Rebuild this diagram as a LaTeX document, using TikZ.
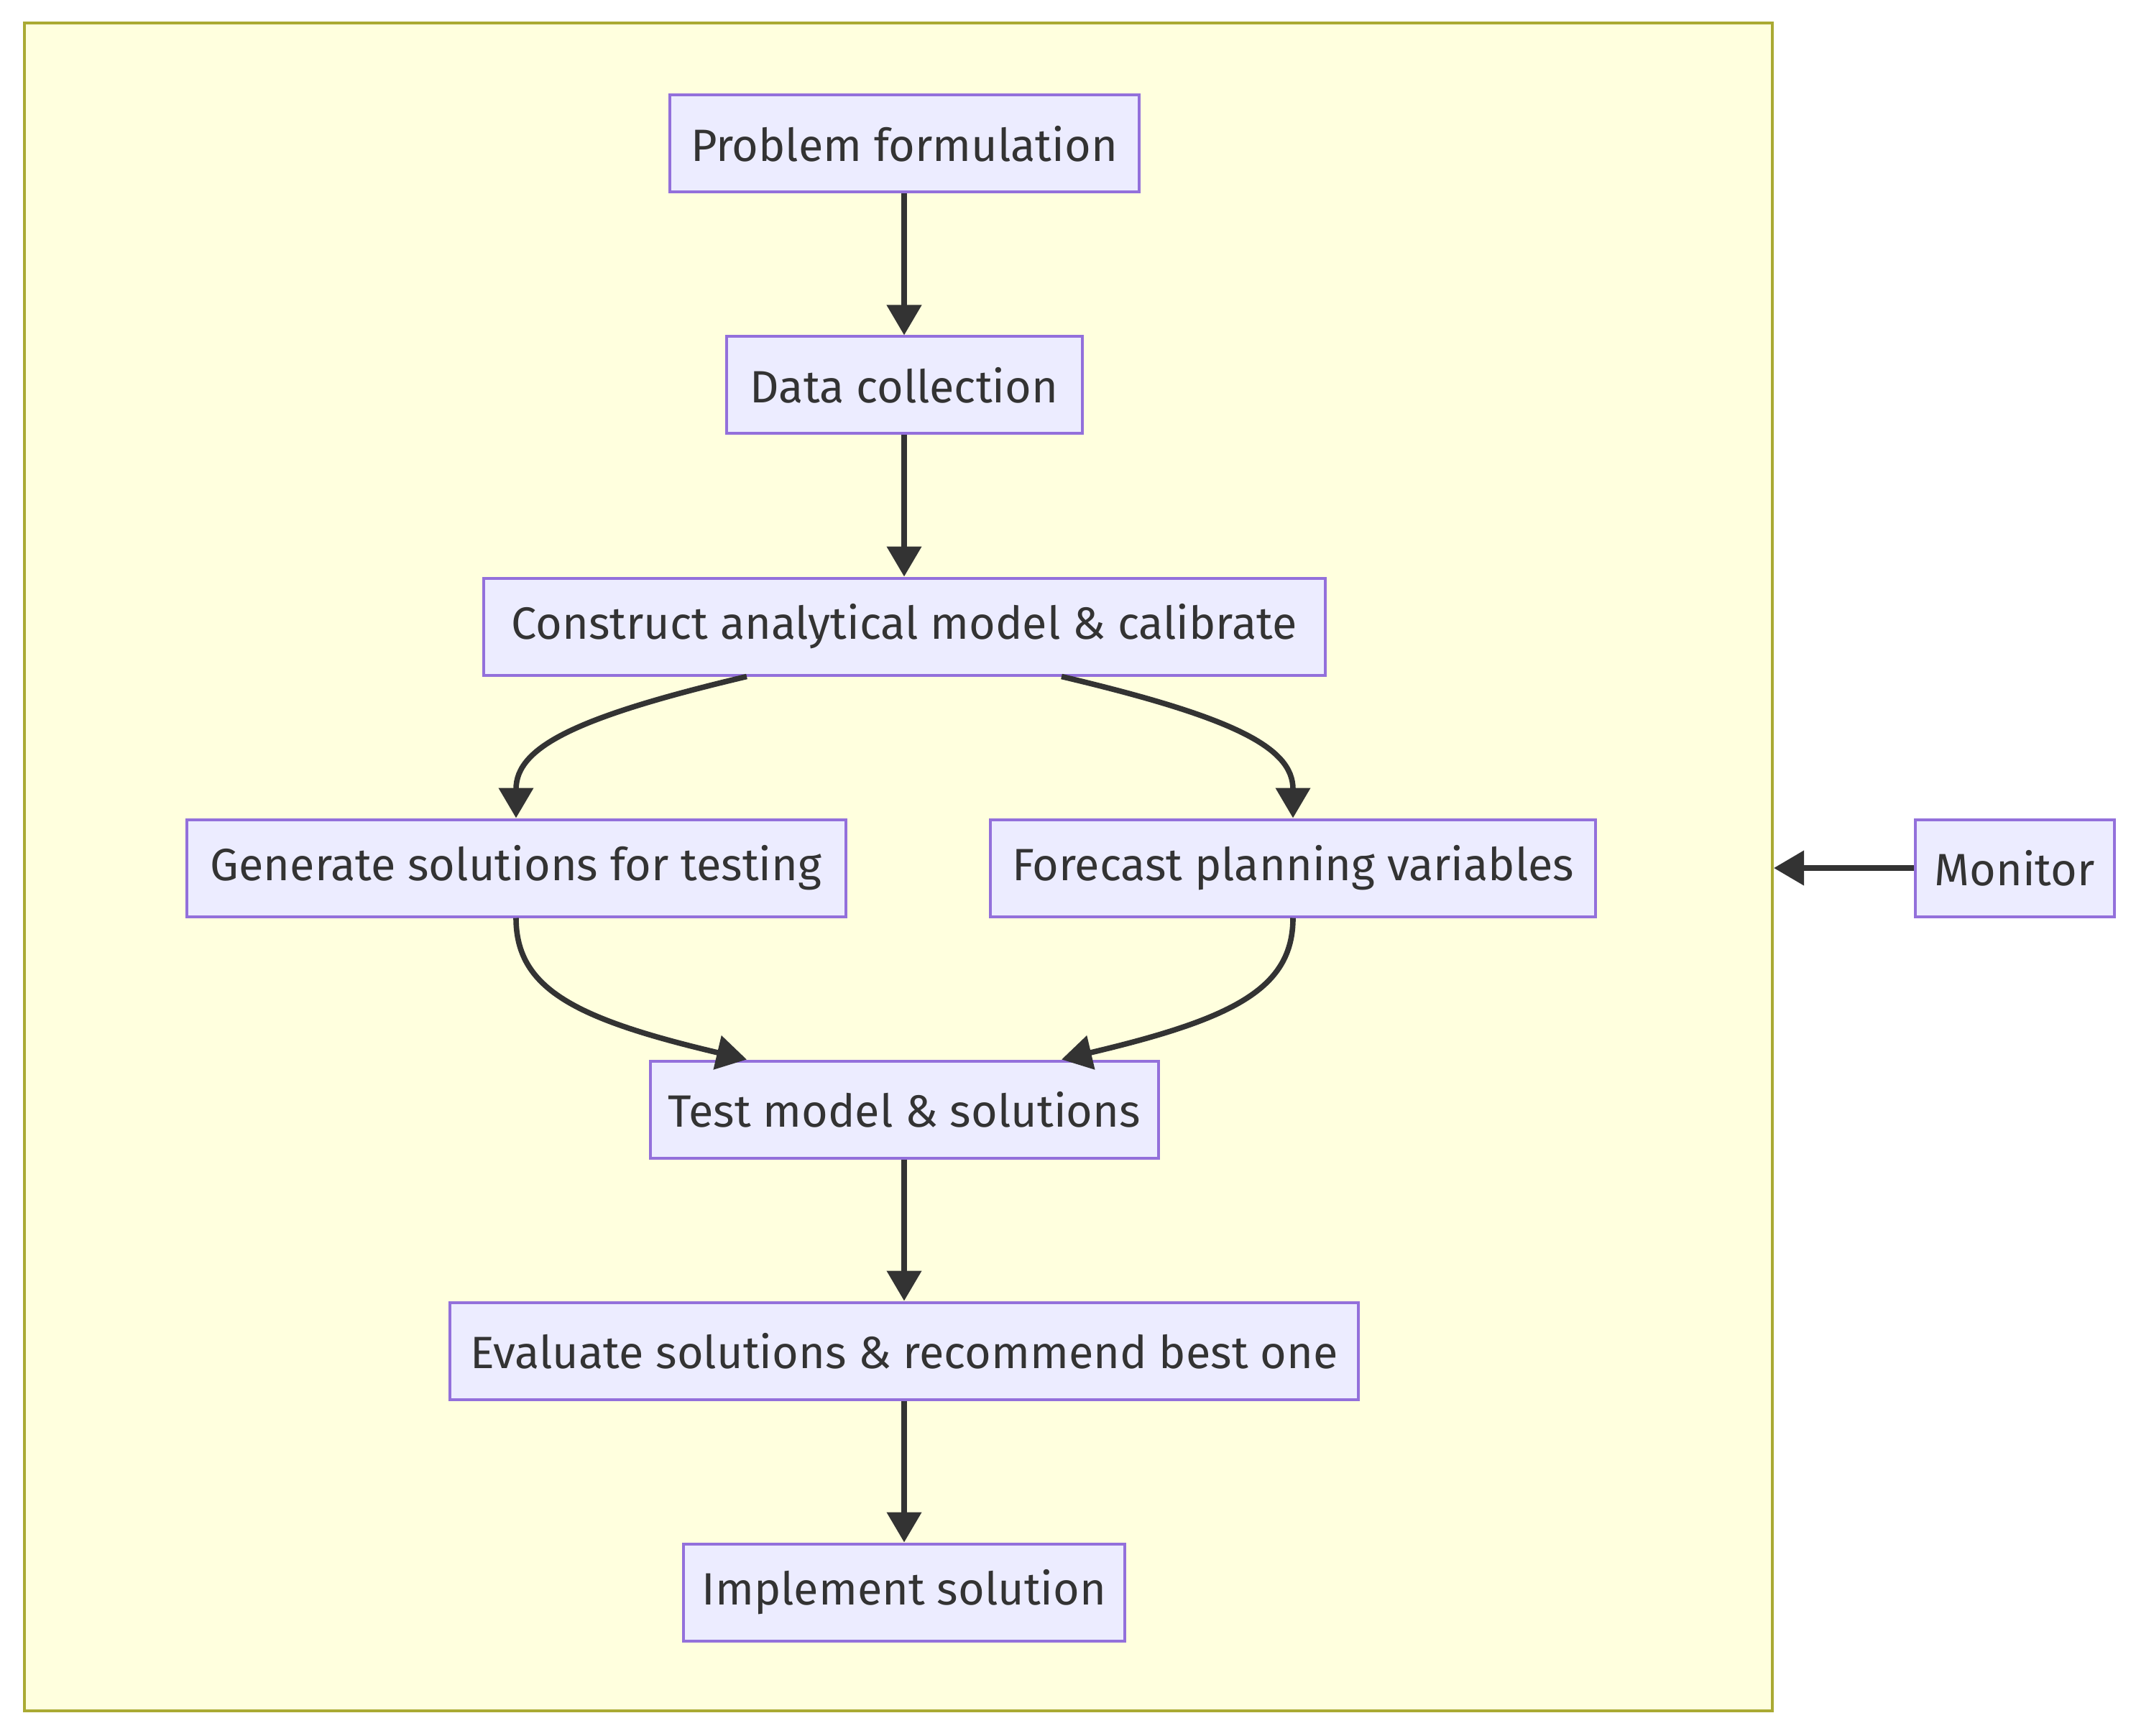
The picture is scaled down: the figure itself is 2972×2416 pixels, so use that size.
\documentclass[tikz,border=0pt]{standalone}
\usepackage{fontspec}
\setmainfont{Fira Sans}
\usetikzlibrary{arrows.meta}
\definecolor{nodefill}{HTML}{ECECFF}
\definecolor{nodeline}{HTML}{9370DB}
\definecolor{clusterfill}{HTML}{FFFFDE}
\definecolor{clusterline}{HTML}{AAAA33}
\definecolor{edgecol}{HTML}{333333}
\begin{document}
\begin{tikzpicture}[x=0.25pt,y=-0.25pt,
  box/.style={draw=nodeline, fill=nodefill, line width=1pt, minimum height=33.75pt,
    inner sep=0pt, text=edgecol, font=\fontsize{15.75pt}{18pt}\selectfont},
  conn/.style={draw=edgecol, line width=1.9pt, -{Triangle[length=10.5pt,width=11.75pt]}}]
\useasboundingbox (0,0) rectangle (2972,2416);
\fill[white] (0,0) rectangle (2972,2416);
\node[draw=clusterline, fill=clusterfill, line width=1pt, minimum width=608pt,
  minimum height=587.25pt, inner sep=0pt] (cluster) at (1250,1206.5) {};
\node[box, minimum width=163.25pt] (problem) at (1258,200) {Problem formulation};
\node[box, minimum width=123.75pt] (data) at (1258,536) {Data collection};
\node[box, minimum width=292.75pt] (construct) at (1258,872) {Construct analytical model \& calibrate};
\node[box, minimum width=229.25pt] (generate) at (718,1208) {Generate solutions for testing};
\node[box, minimum width=210.5pt] (forecast) at (1799,1208) {Forecast planning variables};
\node[box, minimum width=176.75pt] (test) at (1258,1544) {Test model \& solutions};
\node[box, minimum width=316pt] (evaluate) at (1258,1880) {Evaluate solutions \& recommend best one};
\node[box, minimum width=153.5pt] (implement) at (1258,2216) {Implement solution};
\node[box, minimum width=69.25pt] (monitor) at (2803,1208) {Monitor};
\draw[conn] (problem.south) -- (data.north);
\draw[conn] (data.south) -- (construct.north);
\draw[conn] ([xshift=-54.75pt]construct.south) .. controls (800,998) and (718,1040) .. (generate.north);
\draw[conn] ([xshift=54.75pt]construct.south) .. controls (1716,998) and (1799,1040) .. (forecast.north);
\draw[conn] (generate.south) .. controls (718,1376) and (800,1418) .. ([xshift=-54.75pt]test.north);
\draw[conn] (forecast.south) .. controls (1799,1376) and (1716,1418) .. ([xshift=54.75pt]test.north);
\draw[conn] (test.south) -- (evaluate.north);
\draw[conn] (evaluate.south) -- (implement.north);
\draw[conn] (monitor.west) -- (monitor.west -| cluster.east);
\end{tikzpicture}
\end{document}
